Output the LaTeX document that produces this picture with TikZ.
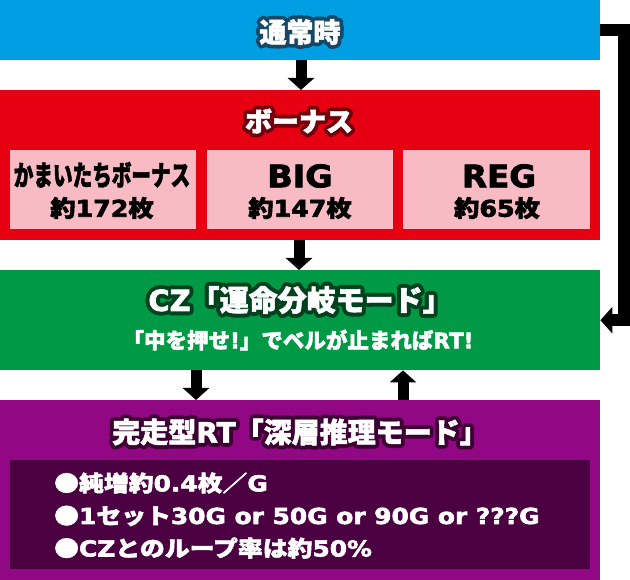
\documentclass[tikz,border=0pt]{standalone}
\usepackage{fontspec}
\usepackage{graphicx}
\setmainfont{Noto Sans CJK JP}[BoldFeatures={FakeBold=2}]
\newfontfamily\jpO{Noto Sans CJK JP}[BoldFeatures={FakeBold=30}]
\newfontfamily\latN{DejaVu Sans}[BoldFeatures={FakeBold=2.5}]
\newfontfamily\latO{DejaVu Sans}[BoldFeatures={FakeBold=30}]
\newcommand\lat{\latN}
\usetikzlibrary{arrows.meta,calc}
\definecolor{cblue}{RGB}{0,158,226}
\definecolor{cred}{RGB}{230,0,18}
\definecolor{cpink}{RGB}{248,186,195}
\definecolor{cgreen}{RGB}{0,154,70}
\definecolor{cpurple}{RGB}{146,7,131}
\definecolor{cdark}{RGB}{75,0,66}
\definecolor{oblue}{RGB}{22,72,102}
\definecolor{ored}{RGB}{112,0,12}
\definecolor{ogreen}{RGB}{0,66,30}
\definecolor{opurple}{RGB}{62,0,52}
\newcommand\fs[1]{\fontsize{#1}{#1}\selectfont\bfseries}
\newcommand\otext[5]{%
  \node[font={\jpO#4\let\lat\latO},text=#3,inner sep=0pt,line join=round] at (#2) {#5};
  \node[font={#4},text=white,inner sep=0pt] (#1) at (#2) {#5};}
\tikzset{
  box/.style={inner sep=0pt,anchor=north west,minimum width=600pt},
  subbox/.style={inner sep=0pt,anchor=north west,fill=cpink,minimum height=79pt},
  arr/.style={line width=11pt,-{Triangle[width=26pt,length=12pt]}},
  fb/.style={line width=12pt,line join=miter,-{Triangle[width=26pt,length=12pt]}},
  blk/.style={inner sep=0pt,text=black},
  wht/.style={inner sep=0pt,text=white},
}
\begin{document}
\begin{tikzpicture}[x=1pt,y=-1pt]
\useasboundingbox (0,0) rectangle (630,580);
% boxes
\node[box,fill=cblue,minimum height=60pt] (normal) at (0,0) {};
\node[box,fill=cred,minimum height=150pt] (bonus) at (0,90) {};
\node[subbox,minimum width=186pt] (kama) at (10,150) {};
\node[subbox,minimum width=186pt] (big) at (207,150) {};
\node[subbox,minimum width=187pt] (reg) at (403,150) {};
\node[box,fill=cgreen,minimum height=100pt] (cz) at (0,270) {};
\node[box,fill=cpurple,minimum height=180pt] (rt) at (0,400) {};
\node[inner sep=0pt,anchor=north west,fill=cdark,minimum width=580pt,minimum height=109pt] (info) at (10,460) {};
% connectors
\draw[arr] ($(normal.south west)+(301,0)$) -- ($(bonus.north west)+(301,0)$);
\draw[arr] ($(bonus.south west)+(299,0)$) -- ($(cz.north west)+(299,0)$);
\draw[arr] ($(cz.south west)+(196,0)$) -- ($(rt.north west)+(196,0)$);
\draw[arr] ($(rt.north west)+(403,0)$) -- ($(cz.south west)+(403,0)$);
\draw[fb] (normal.east) -- ++(24,0) |- (cz.east);
% headings
\otext{tnormal}{300,32}{oblue}{\fs{27}}{通常時}
\otext{tbonus}{299,121}{ored}{\fs{27}}{ボーナス}
\otext{tcz}{300,300}{ogreen}{\fs{29}}{{\lat CZ}「運命分岐モード」}
\otext{trt}{300,432}{opurple}{\fs{28}}{完走型{\lat RT}「深層推理モード」}
% bonus contents
\node[blk,font=\fs{28}] (t1) at (102,175) {\scalebox{0.70}[1]{かまいたちボーナス}};
\node[blk,font=\fs{23}] (t2) at (102,208) {\scalebox{1.1}[1]{約{\lat 172}枚}};
\node[blk,font=\fs{31}] (t3) at (300,176) {\scalebox{1.08}[1]{\lat BIG}};
\node[blk,font=\fs{23}] (t4) at (300,208) {\scalebox{1.1}[1]{約{\lat 147}枚}};
\node[blk,font=\fs{31}] (t5) at (499,176) {\scalebox{1.05}[1]{\lat REG}};
\node[blk,font=\fs{23}] (t6) at (497,208) {\scalebox{1.1}[1]{約{\lat 65}枚}};
% cz subline
\node[wht,font=\fs{21.5}] (tczsub) at (298,340) {「中を押せ{\lat !}」でベルが止まれば{\lat RT!}};
% rt info
\node[wht,font=\fs{22},anchor=west] (l1) at (54,483) {\scalebox{1.13}[1]{●純増約{\lat 0.4}枚／{\lat G}}};
\node[wht,font=\fs{22},anchor=west] (l2) at (54,516) {\scalebox{1.13}[1]{●{\lat 1}セット{\lat 30G or 50G or 90G or ???G}}};
\node[wht,font=\fs{22},anchor=west] (l3) at (54,548) {\scalebox{1.13}[1]{●{\lat CZ}とのループ率は約{\lat 50\%}}};
\end{tikzpicture}
\end{document}
